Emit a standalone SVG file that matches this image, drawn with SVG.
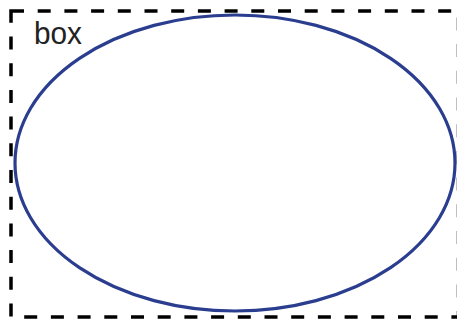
<svg xmlns="http://www.w3.org/2000/svg" width="457" height="323" viewBox="0 0 457 323">
<style>
.frame{fill:none;stroke:#000;stroke-width:3.5;stroke-dasharray:13 13.7}
.shape{fill:#fff;stroke:#2a3d8f;stroke-width:3.2}
.lbl{font-family:"Liberation Sans Narrow","Liberation Sans",Arial,sans-serif;font-size:32px;fill:#222}
</style>
<rect width="457" height="323" fill="#fff"/>
<g id="box">
<rect class="frame" x="11" y="11" width="447.5" height="306"/>
<text class="lbl" x="34" y="44" textLength="48" lengthAdjust="spacingAndGlyphs">box</text>
</g>
<g id="ellipse">
<ellipse class="shape" cx="235" cy="163" rx="220" ry="148"/>
</g>
<g id="connectors"></g>
</svg>
